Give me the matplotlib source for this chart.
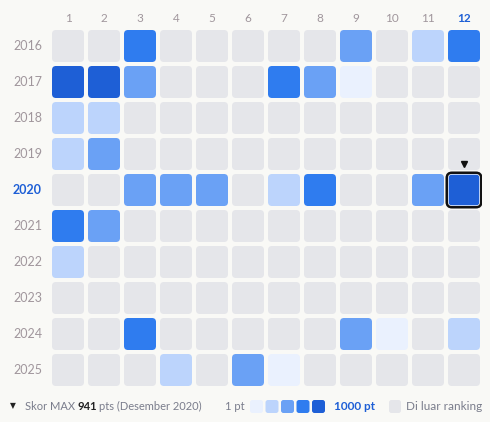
import numpy as np
import matplotlib
matplotlib.use('Agg')
import matplotlib.pyplot as plt
from matplotlib.patches import FancyBboxPatch

# Data
years = [2016, 2017, 2018, 2019, 2020, 2021, 2022, 2023, 2024, 2025]
months = list(range(1, 13))

# Monthly score, 0 = outside ranking
scores = np.array([
    [0,   0,   700, 0,   0,   0,   0,   0,   500, 0,   300, 700],
    [900, 900, 500, 0,   0,   0,   700, 500, 100, 0,   0,   0],
    [300, 300, 0,   0,   0,   0,   0,   0,   0,   0,   0,   0],
    [300, 500, 0,   0,   0,   0,   0,   0,   0,   0,   0,   0],
    [0,   0,   500, 500, 500, 0,   300, 700, 0,   0,   500, 941],
    [700, 500, 0,   0,   0,   0,   0,   0,   0,   0,   0,   0],
    [300, 0,   0,   0,   0,   0,   0,   0,   0,   0,   0,   0],
    [0,   0,   0,   0,   0,   0,   0,   0,   0,   0,   0,   0],
    [0,   0,   700, 0,   0,   0,   0,   0,   500, 100, 0,   300],
    [0,   0,   0,   300, 0,   500, 100, 0,   0,   0,   0,   0],
])
bin_edges = [1, 200, 400, 600, 800, 1001]
max_label = 'Desember 2020'
max_score = 941
highlight_year, highlight_month = 2020, 12

# Style
palette = ['#eaf1fe', '#bcd4fc', '#6aa1f5', '#2f7cef', '#1e5fd6']
empty_color = '#e5e6ea'
bg = '#f9f9f6'
label_color = '#a0969c'
text_color = '#7a7d8c'
accent = '#1e5fd6'
plt.rcParams['font.family'] = ['Lato', 'DejaVu Sans']

fig = plt.figure(figsize=(4.9, 4.22), dpi=100, facecolor=bg)
W, H = 490, 422

ax = fig.add_axes([50 / W, 34 / H, 432 / W, 360 / H])
ax.set_xlim(0.5, 12.5)
ax.set_ylim(len(years) - 0.5, -0.5)
ax.axis('off')

cell = 32 / 36
rad = 4 / 36


def color_for(v):
    if v <= 0:
        return empty_color
    idx = np.searchsorted(bin_edges, v, side='right') - 1
    return palette[min(idx, len(palette) - 1)]


for r, yr in enumerate(years):
    for c, m in enumerate(months):
        v = scores[r, c]
        p = FancyBboxPatch((m - cell / 2, r - cell / 2), cell, cell,
                           boxstyle=f'round,pad=0,rounding_size={rad}',
                           fc=color_for(v), ec='none')
        ax.add_patch(p)

# Highlight max cell
hr = years.index(highlight_year)
hc = highlight_month
inner = FancyBboxPatch((hc - cell / 2, hr - cell / 2), cell, cell,
                       boxstyle=f'round,pad=0,rounding_size={rad}',
                       fc='none', ec='white', lw=1.0)
ax.add_patch(inner)
hl = FancyBboxPatch((hc - cell / 2 - 0.035, hr - cell / 2 - 0.035), cell + 0.07, cell + 0.07,
                    boxstyle=f'round,pad=0,rounding_size={rad + 0.035}',
                    fc='none', ec='#111111', lw=1.8)
ax.add_patch(hl)
ax.plot([hc], [hr - 0.72], marker='v', color='#111111', ms=4.5, clip_on=False)

# Column and row labels
for m in months:
    is_hl = m == highlight_month
    ax.text(m, -0.77, str(m), ha='center', va='center', fontsize=8.5,
            color=accent if is_hl else label_color,
            fontweight='bold' if is_hl else 'normal')
for r, yr in enumerate(years):
    is_hl = yr == highlight_year
    ax.text(0.28, r, str(yr), ha='right', va='center', fontsize=9,
            color=accent if is_hl else label_color,
            fontweight='bold' if is_hl else 'normal')

# Legend row
ly = (H - 406) / H
fs = 8
fig.text(10 / W, ly, '\u25BC', fontsize=5.5, color='#222222', ha='left', va='center',
         family='DejaVu Sans')
t1 = fig.text(25 / W, ly, 'Skor MAX ', fontsize=fs, color=text_color, ha='left', va='center')
fig.canvas.draw()
r = fig.canvas.get_renderer()
x = t1.get_window_extent(r).x1
t2 = fig.text(x / W, ly, str(max_score), fontsize=fs, color='#222222', fontweight='bold',
              ha='left', va='center')
x = t2.get_window_extent(r).x1
fig.text(x / W + 1.5 / W, ly, f'pts ({max_label})', fontsize=fs, color=text_color,
         ha='left', va='center')

fig.text(245 / W, ly, '1 pt', fontsize=fs, color=text_color, ha='right', va='center')
lax = fig.add_axes([0, 0, 1, 1], facecolor='none')
lax.set_xlim(0, W)
lax.set_ylim(H, 0)
lax.axis('off')
for i, col in enumerate(palette):
    lax.add_patch(FancyBboxPatch((250 + i * 15.5, 400), 13, 13,
                                 boxstyle='round,pad=0,rounding_size=2.5', fc=col, ec='none'))
fig.text(334 / W, ly, '1000 pt', fontsize=8.5, color=accent, fontweight='bold',
         ha='left', va='center')
lax.add_patch(FancyBboxPatch((389, 400), 12, 13,
                             boxstyle='round,pad=0,rounding_size=2.5', fc=empty_color, ec='none'))
fig.text(406 / W, ly, 'Di luar ranking', fontsize=8.5, color=text_color, ha='left', va='center')

fig.savefig('out.png', dpi=100, facecolor=bg)
